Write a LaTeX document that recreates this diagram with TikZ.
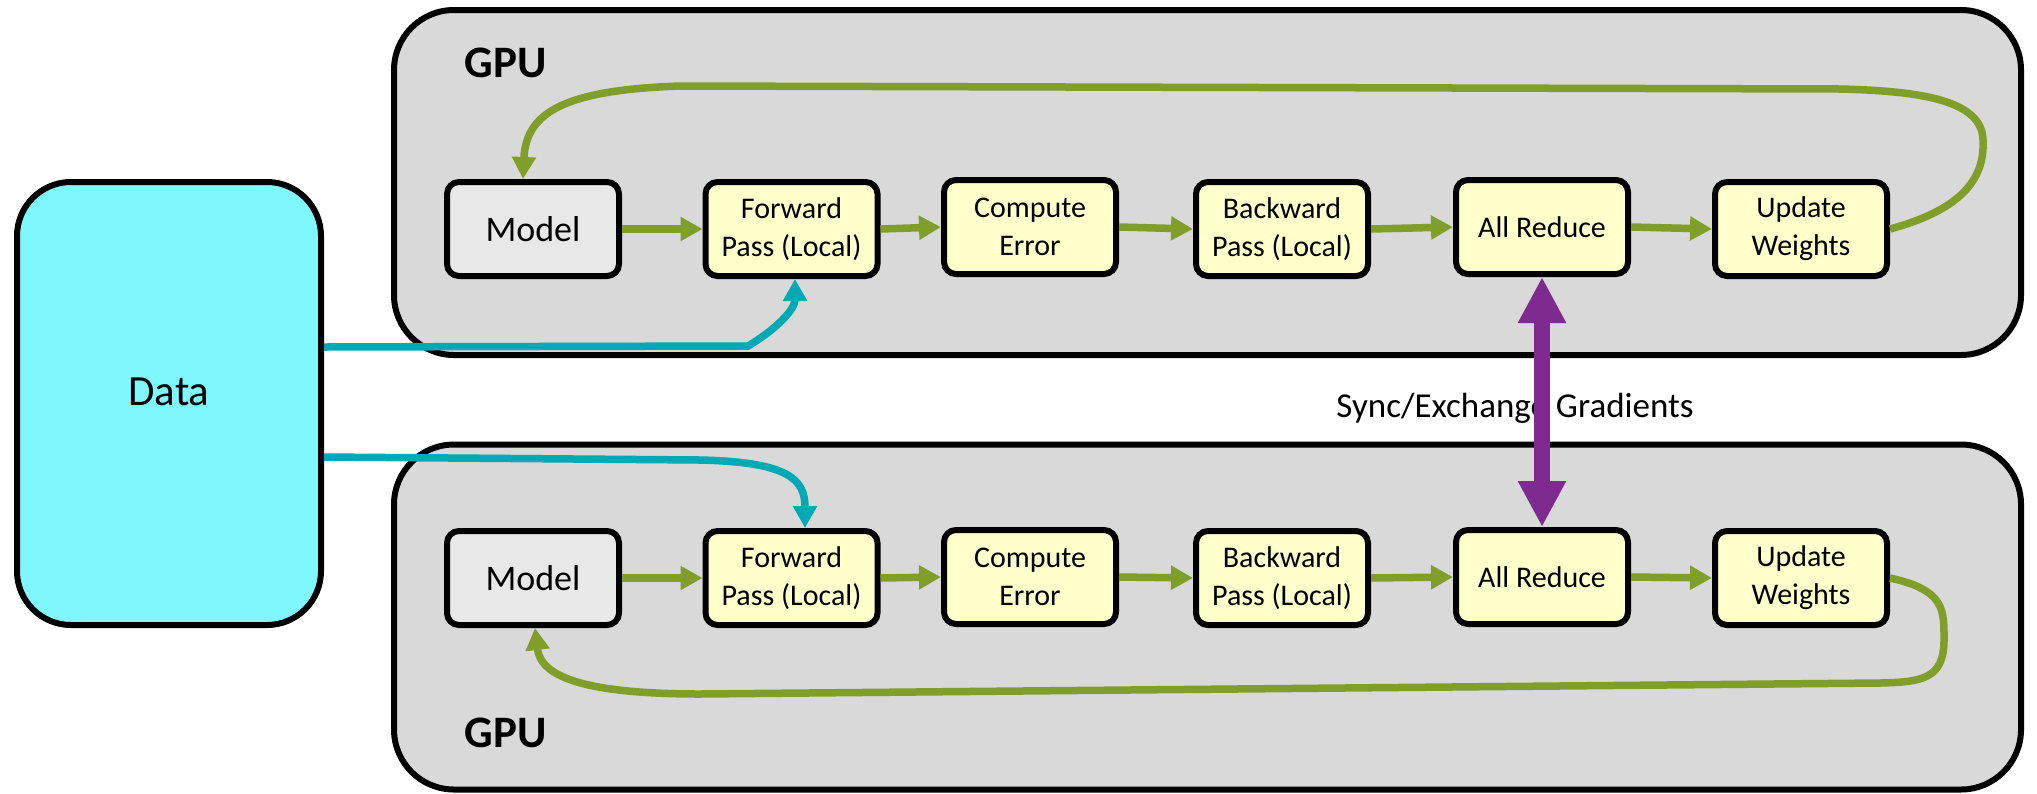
\documentclass[tikz,border=0pt]{standalone}
\usepackage{fontspec}
\setmainfont{Carlito}
\usetikzlibrary{arrows.meta,calc}
\definecolor{gpufill}{HTML}{D9D9D9}
\definecolor{datafill}{HTML}{7EF7FF}
\definecolor{modelfill}{HTML}{E8E8E8}
\definecolor{stepfill}{HTML}{FFFFCC}
\definecolor{flowgreen}{HTML}{7F9F2A}
\definecolor{feedteal}{HTML}{00A9B4}
\definecolor{syncpurple}{HTML}{7F2A8F}

\begin{document}
\begin{tikzpicture}[x=0.5pt,y=-0.5pt,
  gpubox/.style={draw=black, line width=3pt, fill=gpufill, rounded corners=30pt,
    minimum width=813.5pt, minimum height=172.5pt, inner sep=0pt},
  databox/.style={draw=black, line width=3pt, fill=datafill, rounded corners=27pt,
    minimum width=152pt, minimum height=221.5pt, inner sep=0pt,
    font=\fontsize{21.5}{26}\selectfont, text height=12pt, text depth=10.5pt},
  stepbox/.style={draw=black, line width=3pt, fill=stepfill, rounded corners=6pt,
    minimum width=86pt, minimum height=47pt, inner sep=0pt, align=center,
    font=\fontsize{15}{19}\selectfont},
  modelbox/.style={stepbox, fill=modelfill, font=\fontsize{18}{22}\selectfont},
  gpulabel/.style={anchor=base west, inner sep=0pt, font=\bfseries\fontsize{22.5}{27}\selectfont},
  tip/.style={-{Triangle[length=11pt,width=11.5pt]}},
  flow/.style={draw=flowgreen, line width=3.75pt, tip},
  feed/.style={draw=feedteal, line width=3.75pt, tip},
  sync/.style={draw=syncpurple, line width=8pt,
    {Triangle[length=23pt,width=22.5pt]}-{Triangle[length=23pt,width=22.5pt]}}
]
\useasboundingbox (0,0) rectangle (2037,793);

% GPU containers
\node[gpubox] (gpuA) at (1207.5,182.5) {};
\node[gpubox] (gpuB) at (1207.5,617) {};
\node[gpulabel] (lblA) at (464,77) {GPU};
\node[gpulabel] (lblB) at (464,747) {GPU};

% data source
\node[databox] (data) at (169,403.5) {Data};

% upper pipeline
\node[modelbox] (model) at (533,229) {Model};
\node[stepbox] (fwd) at (791.5,229) {Forward\\Pass (Local)};
\node[stepbox] (cmp) at (1030,227) {Compute\\Error};
\node[stepbox] (bwd) at (1282,229) {Backward\\Pass (Local)};
\node[stepbox] (ar) at (1542,227) {All Reduce};
\node[stepbox] (upd) at (1801,229) {Update\\Weights};

% lower pipeline
\node[modelbox] (model2) at (533,578) {Model};
\node[stepbox] (fwd2) at (791.5,578) {Forward\\Pass (Local)};
\node[stepbox] (cmp2) at (1030,577) {Compute\\Error};
\node[stepbox] (bwd2) at (1282,578) {Backward\\Pass (Local)};
\node[stepbox] (ar2) at (1542,577) {All Reduce};
\node[stepbox] (upd2) at (1801,578) {Update\\Weights};

% step-to-step flow
\foreach \a/\b in {model/fwd, fwd/cmp, cmp/bwd, bwd/ar, ar/upd,
                   model2/fwd2, fwd2/cmp2, cmp2/bwd2, bwd2/ar2, ar2/upd2}
  \draw[flow] (\a.east) -- (\b.west);

% weight update loops back to the model
\draw[flow] (upd.east) .. controls (1960,210) and (1985,180) .. (1983,140)
  .. controls (1982,100) and (1920,91) .. (1840,89) -- (680,86)
  .. controls (565,90) and (526,112) .. ([xshift=-5pt]model.north);
\draw[flow] (upd2.east) .. controls (1945,590) and (1944,610) .. (1944,640)
  .. controls (1944,680) and (1920,682) .. (1880,683) -- (700,694)
  .. controls (565,694) and (540,670) .. ([xshift=1pt]model2.south);

% data feeds
\draw[feed] ([yshift=28.25pt]data.east) -- (748,346)
  .. controls (775,330) and (795,310) .. ([xshift=1.75pt]fwd.south);
\draw[feed] ([yshift=-26.75pt]data.east) -- (700,460)
  .. controls (790,462) and (805,480) .. ([xshift=6.75pt]fwd2.north);

% gradient exchange
\node[anchor=base, inner sep=0pt, font=\fontsize{17.5}{21}\selectfont] (synclbl) at (1515,417) {Sync/Exchange Gradients};
\draw[sync] (ar.south) -- (ar2.north);
\end{tikzpicture}
\end{document}
